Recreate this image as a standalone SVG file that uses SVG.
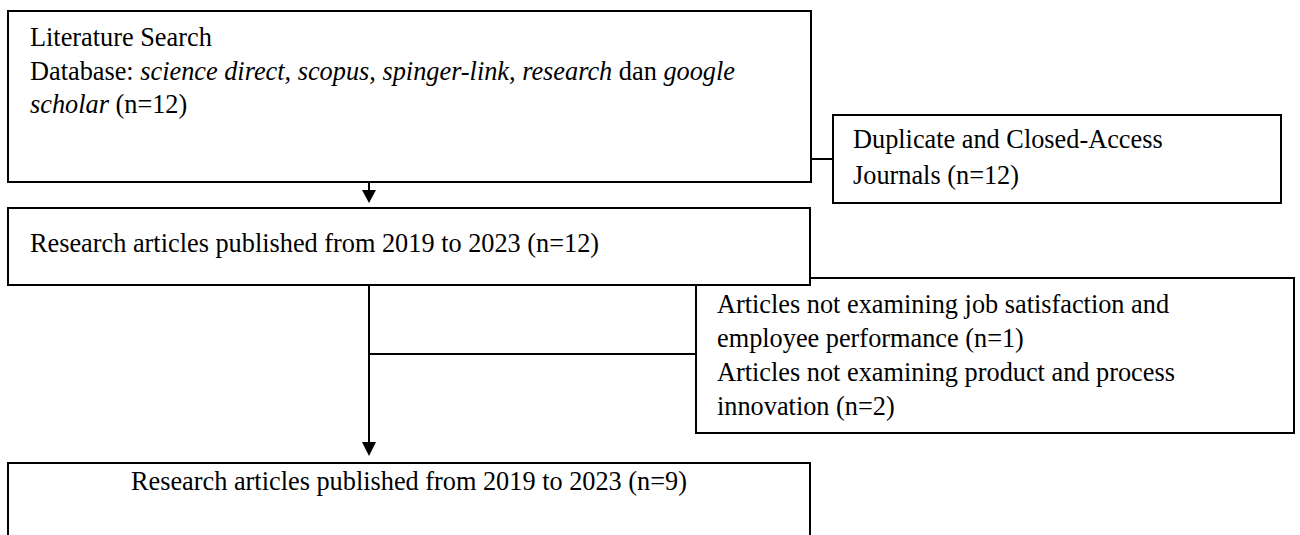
<svg xmlns="http://www.w3.org/2000/svg" width="1300" height="535" viewBox="0 0 1300 535">
<defs>
<style>
.box{fill:#fff;stroke:#000;stroke-width:2}
.t{font-family:"Liberation Serif","Times New Roman",serif;font-size:26.3px;fill:#000}
.i{font-style:italic}
.c{fill:none;stroke:#000;stroke-width:2}
.ah{fill:#000}
</style>
</defs>
<rect width="1300" height="535" fill="#fff"/>
<g id="n3">
<rect class="box" x="696" y="278" width="598" height="155"/>
<text class="t" x="717" y="313">Articles not examining job satisfaction and</text>
<text class="t" x="717" y="347">employee performance (n=1)</text>
<text class="t" x="717" y="381">Articles not examining product and process</text>
<text class="t" x="717" y="415">innovation (n=2)</text>
</g>
<g id="n1">
<rect class="box" x="8" y="11" width="803" height="171"/>
<text class="t" x="30" y="46">Literature Search</text>
<text class="t" x="30" y="80">Database: <tspan class="i">science direct</tspan>, <tspan class="i">scopus</tspan>, <tspan class="i">spinger-link</tspan>, <tspan class="i">research</tspan> dan <tspan class="i">google</tspan></text>
<text class="t" x="30" y="113"><tspan class="i">scholar</tspan> (n=12)</text>
</g>
<g id="n_dup">
<rect class="box" x="833" y="115" width="448" height="88"/>
<text class="t" x="853" y="148">Duplicate and Closed-Access</text>
<text class="t" x="853" y="184">Journals (n=12)</text>
</g>
<g id="n2">
<rect class="box" x="8" y="208" width="802" height="77"/>
<text class="t" x="30" y="252">Research articles published from 2019 to 2023 (n=12)</text>
</g>
<g id="n4">
<rect class="box" x="8" y="463" width="802" height="90"/>
<text class="t" x="409" y="490" text-anchor="middle">Research articles published from 2019 to 2023 (n=9)</text>
</g>
<g id="connectors">
<line class="c" x1="811" y1="159" x2="833" y2="159"/>
<line class="c" x1="369" y1="182" x2="369" y2="191"/>
<polygon class="ah" points="362,190 376,190 369,203"/>
<line class="c" x1="369" y1="285" x2="369" y2="443"/>
<polygon class="ah" points="362,442 376,442 369,456"/>
<line class="c" x1="369" y1="354" x2="696" y2="354"/>
</g>
</svg>
